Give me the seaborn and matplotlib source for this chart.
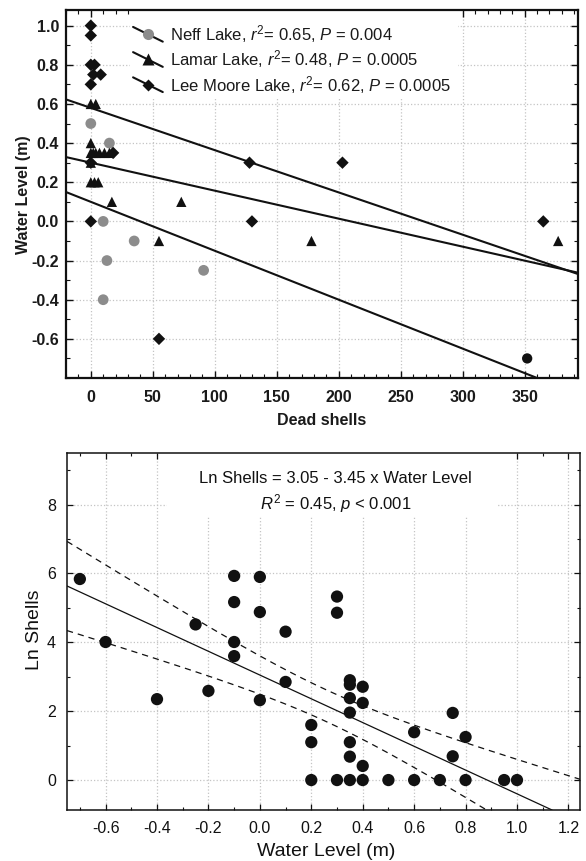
import numpy as np
import matplotlib
matplotlib.use("Agg")
import matplotlib.pyplot as plt
from matplotlib.ticker import MultipleLocator, FormatStrFormatter
from matplotlib.patches import Rectangle
import seaborn as sns

sns.set_theme(style="ticks")
plt.rcParams["font.family"] = ["Liberation Sans", "DejaVu Sans"]
plt.rcParams["mathtext.fontset"] = "custom"
plt.rcParams["mathtext.rm"] = "Liberation Sans"
plt.rcParams["mathtext.it"] = "Liberation Sans:italic"
plt.rcParams["axes.unicode_minus"] = False

# top panel: dead shells vs water level, one series per lake
neff_shells = [0, 15, 10, 35, 13, 10, 91]
neff_level = [0.5, 0.4, 0.0, -0.1, -0.2, -0.4, -0.25]
neff_dark_shells = [352]
neff_dark_level = [-0.7]

lamar_shells = [0, 4, 0, 0, 2, 4, 7, 11, 15, 0, 0, 3, 6, 17, 73, 55, 178, 377]
lamar_level = [0.6, 0.6, 0.4, 0.35, 0.35, 0.35, 0.35, 0.35, 0.35, 0.3, 0.2, 0.2, 0.2,
               0.1, 0.1, -0.1, -0.1, -0.1]

lee_shells = [0, 0, 0, 3, 2, 8, 0, 18, 0, 128, 203, 0, 130, 365, 55]
lee_level = [1.0, 0.95, 0.8, 0.8, 0.75, 0.75, 0.7, 0.35, 0.3, 0.3, 0.3, 0.0, 0.0, 0.0, -0.6]

# fitted lines per lake (intercept, slope)
neff_fit = (0.10, -0.0025)
lamar_fit = (0.30, -0.00143)
lee_fit = (0.58, -0.00216)

legend_labels = [r"Neff Lake, $\mathit{r}^2$= 0.65, $\mathit{P}$ = 0.004",
                 r"Lamar Lake, $\mathit{r}^2$= 0.48, $\mathit{P}$ = 0.0005",
                 r"Lee Moore Lake, $\mathit{r}^2$= 0.62, $\mathit{P}$ = 0.0005"]

# bottom panel: ln shells vs water level, all lakes pooled
water_level = [-0.7, -0.6, -0.4, -0.25, -0.2, -0.1, -0.1, -0.1, -0.1, 0.0, 0.0, 0.0,
               0.1, 0.1, 0.2, 0.2, 0.2, 0.3, 0.3, 0.3, 0.35, 0.35, 0.35, 0.35, 0.35,
               0.35, 0.35, 0.4, 0.4, 0.4, 0.4, 0.5, 0.6, 0.6, 0.7, 0.75, 0.75, 0.8,
               0.8, 0.95, 1.0]
ln_shells = [5.84, 4.01, 2.35, 4.52, 2.59, 5.93, 5.17, 4.01, 3.60, 5.90, 4.88, 2.32,
             4.31, 2.85, 1.60, 1.10, 0.0, 5.33, 4.86, 0.0, 2.90, 2.77, 2.38, 1.96, 1.10,
             0.68, 0.0, 2.71, 2.24, 0.41, 0.0, 0.0, 1.39, 0.0, 0.0, 1.95, 0.69, 1.25,
             0.0, 0.0, 0.0]
fit_intercept = 3.05
fit_slope = -3.45

fig = plt.figure(figsize=(5.86, 8.61), dpi=100)
fig.patch.set_facecolor("white")

grid_kw = dict(color="#c4c4c4", linestyle=":", linewidth=0.9)

# ---------------- top panel ----------------
ax1 = fig.add_axes([66 / 586, 1 - 378 / 861, 512 / 586, 368 / 861])
ax1.set_axisbelow(True)

sns.scatterplot(x=neff_shells, y=neff_level, ax=ax1, marker="o", s=60,
                color="#8c8c8c", edgecolor="none", zorder=3)
sns.scatterplot(x=neff_dark_shells, y=neff_dark_level, ax=ax1, marker="o", s=55,
                color="#111111", edgecolor="none", zorder=3)
sns.scatterplot(x=lamar_shells, y=lamar_level, ax=ax1, marker="^", s=55,
                color="#111111", edgecolor="none", zorder=3)
sns.scatterplot(x=lee_shells, y=lee_level, ax=ax1, marker="D", s=40,
                color="#111111", edgecolor="none", zorder=3)

for b, m in [neff_fit, lamar_fit, lee_fit]:
    ax1.axline((0, b), slope=m, color="#111111", lw=1.5, zorder=2)

ax1.set_xlim(-20, 393)
ax1.set_ylim(-0.8, 1.08)
ax1.xaxis.set_minor_locator(MultipleLocator(10))
ax1.yaxis.set_minor_locator(MultipleLocator(0.1))
ax1.yaxis.set_major_formatter(FormatStrFormatter("%.1f"))
ax1.set_xticks(np.arange(0, 351, 50))
ax1.set_yticks(np.arange(-0.6, 1.01, 0.2))
ax1.grid(True, which="major", **grid_kw)
ax1.tick_params(which="both", direction="in", top=True, right=True, color="#111111")
ax1.tick_params(which="major", length=5, width=1.0, labelsize=11.5)
ax1.tick_params(axis="x", which="major", pad=9)
ax1.tick_params(axis="y", which="major", pad=5)
ax1.tick_params(which="minor", length=3, width=0.8)
for lab in ax1.get_xticklabels() + ax1.get_yticklabels():
    lab.set_fontweight("bold")
    lab.set_color("#1a1a1a")
for sp in ax1.spines.values():
    sp.set_linewidth(1.6)
    sp.set_color("#111111")

ax1.set_xlabel("Dead shells", fontsize=11.5, fontweight="bold", color="#1a1a1a")
ax1.set_ylabel("Water Level (m)", fontsize=11.5, fontweight="bold", color="#1a1a1a")
ax1.xaxis.set_label_coords(0.5, -0.095)
ax1.yaxis.set_label_coords(-0.068, 0.497)

# legend drawn by hand: diagonal line through each marker
ax1.add_patch(Rectangle((0.125, 0.76), 0.64, 0.24, transform=ax1.transAxes,
                        facecolor="white", edgecolor="none", zorder=1))
leg_markers = [("o", "#8c8c8c", 8), ("^", "#111111", 8), ("D", "#111111", 6.5)]
for i, (lab, (mk, col, ms)) in enumerate(zip(legend_labels, leg_markers)):
    yc = 0.934 - i * 0.0685
    ax1.plot([0.131, 0.189], [yc + 0.02, yc - 0.02], transform=ax1.transAxes,
             color="#111111", lw=1.5, zorder=4)
    ax1.plot([0.16], [yc], transform=ax1.transAxes, marker=mk, ms=ms, color=col,
             markeredgecolor="none", zorder=5)
    ax1.text(0.203, yc, lab, transform=ax1.transAxes, fontsize=12,
             va="center", ha="left", color="#1a1a1a", zorder=5)

# ---------------- bottom panel ----------------
ax2 = fig.add_axes([67 / 586, 1 - 810 / 861, 513 / 586, 357 / 861])
ax2.set_axisbelow(True)

sns.scatterplot(x=water_level, y=ln_shells, ax=ax2, marker="o", s=78,
                color="#111111", edgecolor="none", zorder=3)

ax2.axline((0, fit_intercept), slope=fit_slope, color="#111111", lw=0.9, zorder=2)

# 95% confidence band around the fitted line
xv = np.array(water_level)
yv = np.array(ln_shells)
n = len(xv)
resid = yv - (fit_intercept + fit_slope * xv)
s_err = np.sqrt(np.sum(resid ** 2) / (n - 2))
sxx = np.sum((xv - xv.mean()) ** 2)
xg = np.linspace(-0.75, 1.25, 200)
yfit = fit_intercept + fit_slope * xg
hw = 2.023 * s_err * np.sqrt(1 / n + (xg - xv.mean()) ** 2 / sxx)
sns.lineplot(x=xg, y=yfit + hw, ax=ax2, color="#111111", lw=0.9,
             linestyle=(0, (5, 4)), zorder=2)
sns.lineplot(x=xg, y=yfit - hw, ax=ax2, color="#111111", lw=0.9,
             linestyle=(0, (5, 4)), zorder=2)

ax2.set_xlim(-0.75, 1.245)
ax2.set_ylim(-0.87, 9.5)
ax2.set_xticks(np.arange(-0.6, 1.21, 0.2))
ax2.set_yticks([0, 2, 4, 6, 8])
ax2.xaxis.set_minor_locator(MultipleLocator(0.1))
ax2.yaxis.set_minor_locator(MultipleLocator(1))
ax2.xaxis.set_major_formatter(FormatStrFormatter("%.1f"))
ax2.grid(True, which="major", **grid_kw)
ax2.tick_params(which="both", direction="in", top=True, right=True, color="#111111")
ax2.tick_params(which="major", length=4, width=0.9, labelsize=11.5, pad=8,
                labelcolor="#111111")
ax2.tick_params(which="minor", length=2.5, width=0.8)
for sp in ax2.spines.values():
    sp.set_linewidth(1.1)
    sp.set_color("#111111")

ax2.set_xlabel("Water Level (m)", fontsize=14, color="#111111")
ax2.set_ylabel("Ln Shells", fontsize=14, color="#111111")
ax2.xaxis.set_label_coords(0.505, -0.092)
ax2.yaxis.set_label_coords(-0.047, 0.504)

ax2.add_patch(Rectangle((0.195, 0.821), 0.643, 0.179, transform=ax2.transAxes,
                        facecolor="white", edgecolor="none", zorder=1))
ax2.text(0.524, 0.889, "Ln Shells = 3.05 - 3.45 x Water Level\n"
         r"$\mathit{R}^2$ = 0.45, $\mathit{p}$ < 0.001",
         transform=ax2.transAxes, fontsize=12, ha="center", va="center",
         linespacing=1.35, color="#111111", zorder=4)

fig.savefig("out.png", dpi=100, facecolor="white")
